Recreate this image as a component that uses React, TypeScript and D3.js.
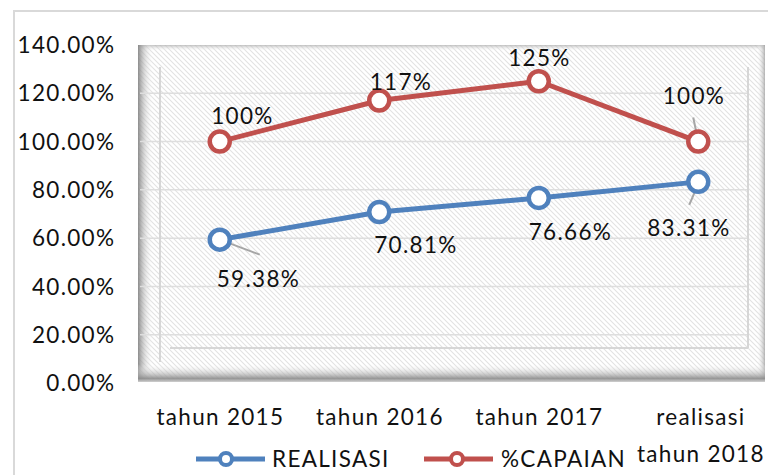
import React from 'react';
import * as d3 from 'd3';

const categories = ['tahun 2015', 'tahun 2016', 'tahun 2017', 'realisasi\ntahun 2018'];
const realisasi = [0.5938, 0.7081, 0.7666, 0.8331];
const capaian = [1.0, 1.17, 1.25, 1.0];
const realisasiLabels = ['59.38%', '70.81%', '76.66%', '83.31%'];
const capaianLabels = ['100%', '117%', '125%', '100%'];
const yTicks = [0, 0.2, 0.4, 0.6, 0.8, 1.0, 1.2, 1.4];

const BLUE = '#4f81bd';
const RED = '#c0504d';
const FONT = 'Lato, "Open Sans", sans-serif';
const LS = 1.3;

// label offsets relative to the point (dx, dy of label centre), plus optional leader line
const blueOffsets = [
  { dx: 38, dy: 39, leader: true },
  { dx: 36, dy: 33, leader: false },
  { dx: 31, dy: 34, leader: false },
  { dx: -10, dy: 46, leader: true },
];
const redOffsets = [
  { dx: 22, dy: -26, leader: false },
  { dx: 21, dy: -19, leader: false },
  { dx: 0, dy: -23, leader: false },
  { dx: -5, dy: -46, leader: true },
];

export default function App() {
  const width = 768;
  const height = 475;

  const x = d3.scalePoint<string>().domain(categories).range([140, 778]).padding(0.5);
  const y = d3.scaleLinear().domain([0, 1.4]).range([383, 45]);

  const line = d3
    .line<number>()
    .x((_, i) => x(categories[i])!)
    .y((d) => y(d));

  const frame = { x0: 138, y0: 45, x1: 765, y1: 382 };
  const txt = { fontFamily: FONT, fontSize: 22.5, fontWeight: 400, fill: '#111', letterSpacing: LS };

  return (
    <svg width={width} height={height} style={{ position: 'absolute', left: 0, top: 0 }}>
      <defs>
        <pattern id="hatch" width="5" height="5" patternUnits="userSpaceOnUse">
          <path d="M0,0 L5,5 M-1,4 L1,6 M4,-1 L6,1" stroke="#e2e2e2" strokeWidth="1.1" />
        </pattern>
        <linearGradient id="leftShade" x1="0" x2="1" y1="0" y2="0">
          <stop offset="0" stopColor="#808080" stopOpacity="0.9" />
          <stop offset="1" stopColor="#ffffff" stopOpacity="0" />
        </linearGradient>
        <linearGradient id="bottomShade" x1="0" x2="0" y1="1" y2="0">
          <stop offset="0" stopColor="#d0d0d0" stopOpacity="1" />
          <stop offset="0.2" stopColor="#8c8c8c" stopOpacity="0.9" />
          <stop offset="1" stopColor="#ffffff" stopOpacity="0" />
        </linearGradient>
        <linearGradient id="topShade" x1="0" x2="0" y1="0" y2="1">
          <stop offset="0" stopColor="#b0b0b0" stopOpacity="0.8" />
          <stop offset="1" stopColor="#ffffff" stopOpacity="0" />
        </linearGradient>
        <linearGradient id="rightShade" x1="1" x2="0" y1="0" y2="0">
          <stop offset="0" stopColor="#a0a0a0" stopOpacity="0.8" />
          <stop offset="1" stopColor="#ffffff" stopOpacity="0" />
        </linearGradient>
      </defs>

      <rect x={0} y={0} width={width} height={height} fill="#ffffff" />
      <rect x={14} y={11} width={900} height={600} fill="#ffffff" stroke="#d9d9d9" strokeWidth={2} />

      {/* plot area with bevel */}
      <rect
        x={frame.x0}
        y={frame.y0}
        width={frame.x1 - frame.x0}
        height={frame.y1 - frame.y0}
        fill="url(#hatch)"
      />
      <rect x={frame.x0} y={frame.y0} width={frame.x1 - frame.x0} height={6} fill="url(#topShade)" />
      <rect x={frame.x0} y={frame.y0} width={15} height={frame.y1 - frame.y0} fill="url(#leftShade)" />
      <rect x={frame.x1 - 8} y={frame.y0} width={8} height={frame.y1 - frame.y0} fill="url(#rightShade)" />
      <rect x={frame.x0} y={frame.y1 - 18} width={frame.x1 - frame.x0} height={18} fill="url(#bottomShade)" />

      {/* gridlines */}
      {yTicks
        .filter((t) => t > 0 && t < 1.4)
        .map((t) => (
          <line key={t} x1={140} x2={748} y1={y(t)} y2={y(t)} stroke="#dedede" strokeWidth={1.5} />
        ))}
      <line x1={160} x2={160} y1={67} y2={362} stroke="#d6d6d6" strokeWidth={2} />
      <line x1={748} x2={748} y1={67} y2={348} stroke="#d6d6d6" strokeWidth={2} />
      <line x1={170} x2={748} y1={348} y2={348} stroke="#d6d6d6" strokeWidth={2} />

      {/* y axis labels */}
      {yTicks.map((t) => (
        <text key={t} x={114 + LS} y={y(t)} dy="0.36em" textAnchor="end" {...txt}>
          {(t * 100).toFixed(2)}%
        </text>
      ))}

      {/* x axis labels */}
      {categories.map((c) => {
        const lines = c.split('\n');
        const cx = x(c)! + (lines.length > 1 ? 2 : 0) + LS / 2;
        return (
          <text key={c} x={cx} y={425} textAnchor="middle" {...txt}>
            {lines.map((l, i) => (
              <tspan key={l} x={cx} dy={i === 0 ? 0 : 37}>
                {l}
              </tspan>
            ))}
          </text>
        );
      })}

      {/* series */}
      <path d={line(realisasi)!} fill="none" stroke={BLUE} strokeWidth={5} strokeLinejoin="round" />
      <path d={line(capaian)!} fill="none" stroke={RED} strokeWidth={5} strokeLinejoin="round" />

      {/* leader lines */}
      {realisasi.map((v, i) => {
        const o = blueOffsets[i];
        if (!o.leader) return null;
        const px = x(categories[i])!;
        const py = y(v);
        return i === 0 ? (
          <line key={i} x1={px} y1={py} x2={px + 40} y2={py + 15} stroke="#a6a6a6" strokeWidth={2} />
        ) : (
          <line key={i} x1={px} y1={py + 2} x2={px - 9} y2={py + 23} stroke="#a6a6a6" strokeWidth={2} />
        );
      })}
      {capaian.map((v, i) => {
        const o = redOffsets[i];
        if (!o.leader) return null;
        const px = x(categories[i])!;
        const py = y(v);
        return <line key={i} x1={px - 5} y1={py - 24} x2={px} y2={py} stroke="#a6a6a6" strokeWidth={2} />;
      })}

      {realisasi.map((v, i) => (
        <circle key={i} cx={x(categories[i])!} cy={y(v)} r={10} fill="#fff" stroke={BLUE} strokeWidth={4.5} />
      ))}
      {capaian.map((v, i) => (
        <circle key={i} cx={x(categories[i])!} cy={y(v)} r={10} fill="#fff" stroke={RED} strokeWidth={4.5} />
      ))}

      {/* data labels */}
      {realisasi.map((v, i) => (
        <text
          key={i}
          x={x(categories[i])! + blueOffsets[i].dx + LS / 2}
          y={y(v) + blueOffsets[i].dy}
          dy="0.36em"
          textAnchor="middle"
          {...txt}
        >
          {realisasiLabels[i]}
        </text>
      ))}
      {capaian.map((v, i) => (
        <text
          key={i}
          x={x(categories[i])! + redOffsets[i].dx + LS / 2}
          y={y(v) + redOffsets[i].dy}
          dy="0.36em"
          textAnchor="middle"
          {...txt}
        >
          {capaianLabels[i]}
        </text>
      ))}

      {/* legend */}
      <g transform="translate(196,459)">
        <line x1={0} x2={69} y1={0} y2={0} stroke={BLUE} strokeWidth={5} />
        <circle cx={30} cy={0} r={6} fill="#fff" stroke={BLUE} strokeWidth={4} />
        <text x={76} y={0} dy="0.36em" {...txt}>
          REALISASI
        </text>
      </g>
      <g transform="translate(424,459)">
        <line x1={0} x2={69} y1={0} y2={0} stroke={RED} strokeWidth={5} />
        <circle cx={33} cy={0} r={6} fill="#fff" stroke={RED} strokeWidth={4} />
        <text x={77} y={0} dy="0.36em" {...txt}>
          %CAPAIAN
        </text>
      </g>
    </svg>
  );
}
